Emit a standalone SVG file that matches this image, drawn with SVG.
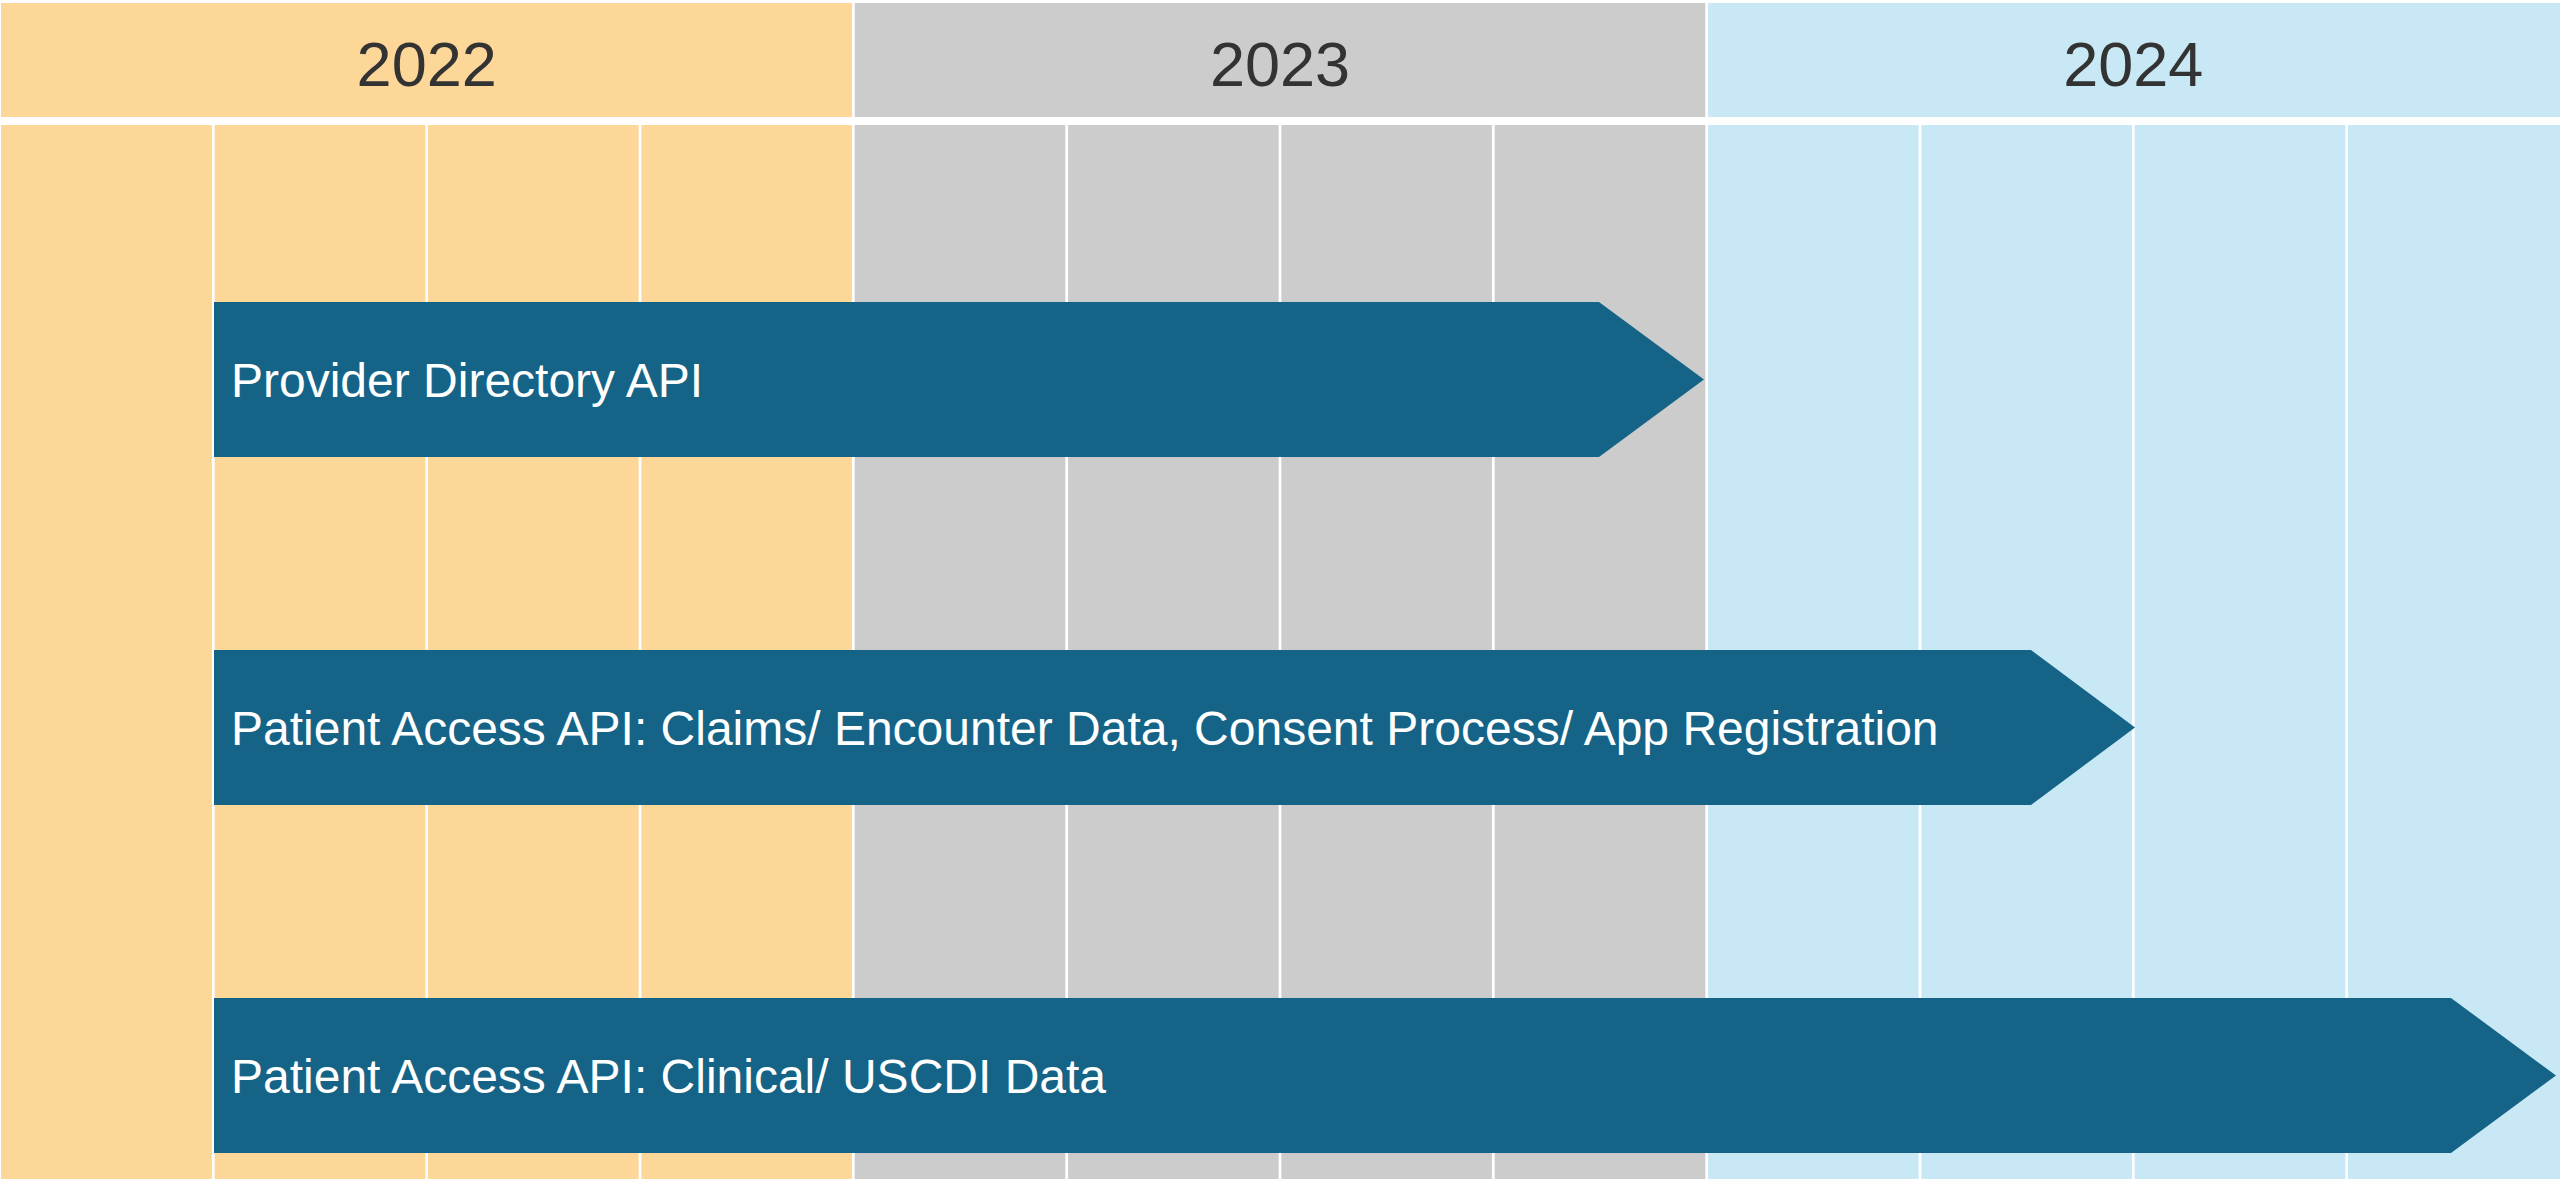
<svg xmlns="http://www.w3.org/2000/svg" width="2560" height="1179" viewBox="0 0 2560 1179">
  <style>
    .y22 { fill: #FCD798; }
    .y23 { fill: #CCCCCC; }
    .y24 { fill: #C9E8F5; }
    .year { font-family: "Liberation Sans", Arial, sans-serif; font-size: 63px; fill: #333333; text-anchor: middle; }
    .bar { fill: #156487; }
    .label { font-family: "Liberation Sans", Arial, sans-serif; font-size: 48px; fill: #FFFFFF; }
    .grid { stroke: #FFFFFF; stroke-width: 2.7; }
  </style>
  <rect x="0" y="0" width="2560" height="1179" fill="#FFFFFF"/>
  <g id="header-2022">
    <rect class="y22" x="1" y="3" width="851" height="114"/>
    <text class="year" x="426.7" y="86">2022</text>
  </g>
  <g id="header-2023">
    <rect class="y23" x="854.7" y="3" width="850.6" height="114"/>
    <text class="year" x="1280" y="86">2023</text>
  </g>
  <g id="header-2024">
    <rect class="y24" x="1708" y="3" width="852" height="114"/>
    <text class="year" x="2133.3" y="86">2024</text>
  </g>
  <g id="body">
    <rect class="y22" x="1" y="125" width="852.3" height="1054"/>
    <rect class="y23" x="853.3" y="125" width="853.4" height="1054"/>
    <rect class="y24" x="1706.7" y="125" width="853.3" height="1054"/>
    <g id="grid-lines">
      <line class="grid" x1="213.3" y1="125" x2="213.3" y2="1179"/>
      <line class="grid" x1="426.7" y1="125" x2="426.7" y2="1179"/>
      <line class="grid" x1="640" y1="125" x2="640" y2="1179"/>
      <line class="grid" x1="853.3" y1="125" x2="853.3" y2="1179"/>
      <line class="grid" x1="1066.7" y1="125" x2="1066.7" y2="1179"/>
      <line class="grid" x1="1280" y1="125" x2="1280" y2="1179"/>
      <line class="grid" x1="1493.3" y1="125" x2="1493.3" y2="1179"/>
      <line class="grid" x1="1706.7" y1="125" x2="1706.7" y2="1179"/>
      <line class="grid" x1="1920" y1="125" x2="1920" y2="1179"/>
      <line class="grid" x1="2133.3" y1="125" x2="2133.3" y2="1179"/>
      <line class="grid" x1="2346.7" y1="125" x2="2346.7" y2="1179"/>
    </g>
  </g>
  <g id="bar-provider-directory">
    <polygon class="bar" points="214,302 1599,302 1704,379.5 1599,457 214,457"/>
    <text class="label" x="231" y="397">Provider Directory API</text>
  </g>
  <g id="bar-patient-access-claims">
    <polygon class="bar" points="214,650 2031,650 2135,727.5 2031,805 214,805"/>
    <text class="label" x="231" y="745">Patient Access API: Claims/ Encounter Data, Consent Process/ App Registration</text>
  </g>
  <g id="bar-patient-access-clinical">
    <polygon class="bar" points="214,998 2451,998 2556,1075.5 2451,1153 214,1153"/>
    <text class="label" x="231" y="1093">Patient Access API: Clinical/ USCDI Data</text>
  </g>
</svg>
